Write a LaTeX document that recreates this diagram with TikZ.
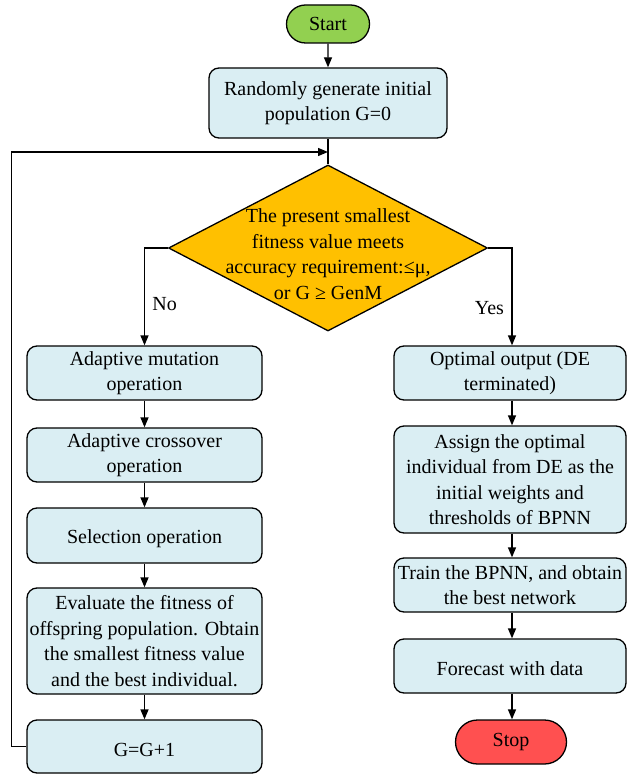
\documentclass[tikz,border=0pt]{standalone}
\usepackage{fontspec}
\setmainfont{Liberation Serif}
\usetikzlibrary{shapes.geometric,shapes.misc,arrows.meta}
\definecolor{boxfill}{HTML}{DAEEF3}
\definecolor{decfill}{HTML}{FFC000}
\definecolor{startfill}{HTML}{92D050}
\definecolor{stopfill}{HTML}{FF5050}
\begin{document}
\begin{tikzpicture}[x=1pt,y=-1pt,
  every node/.style={font=\fontsize{20}{25.5}\selectfont},
  procbox/.style={draw,line width=1.3pt,fill=boxfill,rounded corners=10pt,
    inner sep=0pt,align=center,execute at begin node={\rule{0pt}{20pt}}},
  leftbox/.style={procbox,minimum width=235pt},
  rightbox/.style={procbox,minimum width=232pt},
  terminal/.style={draw,line width=1.3pt,rounded rectangle,inner sep=0pt},
  flow/.style={line width=1.3pt,-{Triangle[length=10pt,width=8pt]}},
  plain/.style={line width=1.3pt}]
\useasboundingbox (0,0) rectangle (627,775);

% start and initialisation
\node[terminal,fill=startfill,minimum width=83pt,minimum height=38pt] (start) at (328,24) {Start};
\node[procbox,minimum width=238pt,minimum height=70pt] (init) at (328,103)
  {Randomly generate initial\\population G=0};

% decision
\node[draw,line width=1.3pt,fill=decfill,diamond,inner sep=0pt,
  minimum width=319pt,minimum height=166pt] (dec) at (328,248) {};
\node[align=center,inner sep=0pt] (dectext) at (328,254)
  {The present smallest\\fitness value meets\\accuracy requirement:≤μ,\\or G ≥ GenM};

% DE loop (left column)
\node[leftbox,minimum height=54pt] (mut) at (144.5,373) {Adaptive mutation\\operation};
\node[leftbox,minimum height=54pt] (cross) at (144.5,455) {Adaptive crossover\\operation};
\node[leftbox,minimum height=55pt] (sel) at (144.5,535.5) {Selection operation};
\node[leftbox,minimum height=106pt] (eval) at (144.5,641)
  {Evaluate the fitness of\\offspring population. Obtain\\the smallest fitness value\\and the best individual.};
\node[leftbox,minimum height=53pt] (upd) at (144.5,746.5) {G=G+1};

% BPNN part (right column)
\node[rightbox,minimum height=54pt] (opt) at (510,373) {Optimal output (DE\\terminated)};
\node[rightbox,minimum height=107pt] (assign) at (510,479.5)
  {Assign the optimal\\individual from DE as the\\initial weights and\\thresholds of BPNN};
\node[rightbox,minimum height=54pt] (train) at (510,585) {Train the BPNN, and obtain\\the best network};
\node[rightbox,minimum height=54pt] (fore) at (510,666) {Forecast with data};
\node[terminal,fill=stopfill,minimum width=111pt,minimum height=44pt] (stop) at (511,742) {Stop};

% connectors
\coordinate (join) at (328,152);
\draw[flow] (start) -- (init);
\draw[plain] (init) -- (dec.north);
\draw[flow] (upd.west) -- ++(-15,0) |- (join);
\draw[flow] (dec.west) -| (mut.north) node[pos=0.79,right=4pt] {No};
\draw[flow] (dec.east) -| (opt.north -| 512,0) node[pos=0.81,left=4pt] {Yes};
\draw[flow] (mut) -- (cross);
\draw[flow] (cross) -- (sel);
\draw[flow] (sel) -- (eval);
\draw[flow] (eval) -- (upd);
\draw[flow] (opt.south -| 512,0) -- (assign.north -| 512,0);
\draw[flow] (assign.south -| 512,0) -- (train.north -| 512,0);
\draw[flow] (train.south -| 512,0) -- (fore.north -| 512,0);
\draw[flow] (fore.south -| 512,0) -- (stop.north -| 512,0);
\end{tikzpicture}
\end{document}
